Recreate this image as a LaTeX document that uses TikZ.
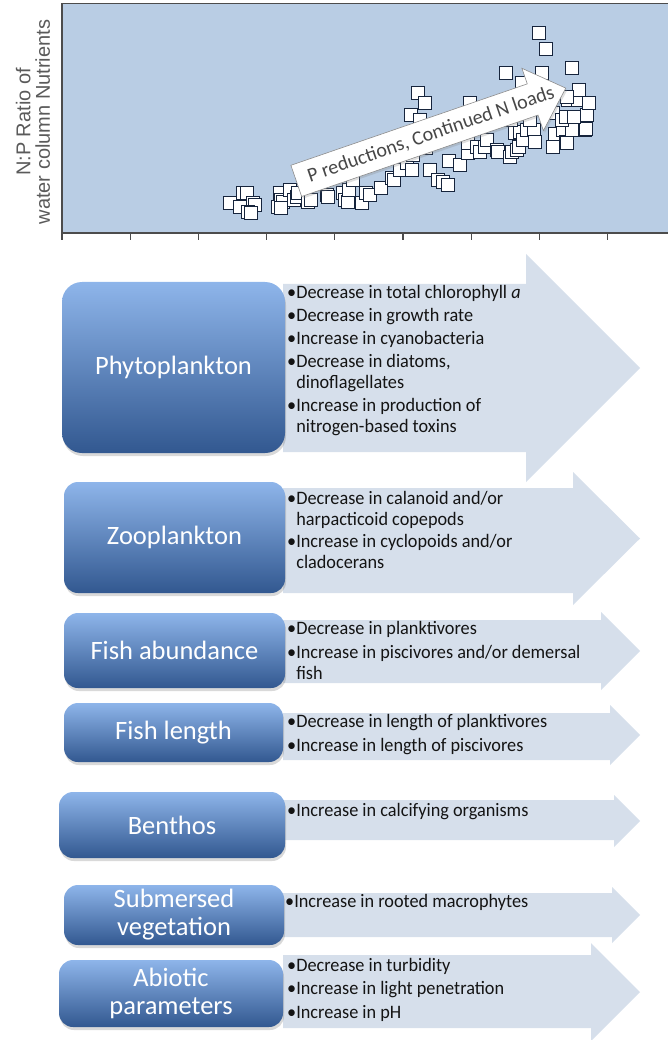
\documentclass[tikz,border=0pt]{standalone}
\usepackage{fontspec}
\setmainfont{Carlito}
\newfontfamily\axisfont{Liberation Sans}
\newfontfamily\listfont[FakeStretch=0.96]{Carlito}
\usetikzlibrary{shadows}

\definecolor{plotbg}{RGB}{185,205,228}
\definecolor{pointedge}{RGB}{22,36,60}
\definecolor{axisgray}{RGB}{90,90,90}
\definecolor{arrowfill}{RGB}{214,223,235}
\definecolor{boxtop}{RGB}{142,181,234}
\definecolor{boxbot}{RGB}{50,88,144}

\begin{document}
\begin{tikzpicture}[x=1pt,y=-1pt,
  axisline/.style={draw=black!70, line width=1.1pt},
  sample/.style={draw=pointedge, fill=white, line width=1.2pt},
  trendarrow/.style={fill=white, draw=black!45, line width=0.6pt,
    drop shadow={opacity=0.25, shadow xshift=1.5pt, shadow yshift=-2pt}},
  fatarrow/.style={fill=arrowfill},
  group/.style={rounded corners=14pt, top color=boxtop, bottom color=boxbot,
    text=white, align=center, inner sep=0pt,
    font=\fontsize{26.5}{28}\selectfont,
    drop shadow={opacity=0.3, shadow xshift=1pt, shadow yshift=-3pt}},
  effects/.style={anchor=north west, inner sep=0pt, align=left,
    font=\listfont\fontsize{19}{21}\selectfont, text=black!92}
]
\useasboundingbox (0,0) rectangle (667,1040);

% scatter plot of the ratio
\draw [axisline, fill=plotbg] (62,3.5) rectangle (680,233);
\foreach \k in {0,...,8}
  \draw [axisline] (62+68.2*\k,233) -- (62+68.2*\k,240);
\node [rotate=90, align=center, text=axisgray,
  font=\axisfont\fontsize{20}{19.5}\selectfont] (ratiolabel) at (33,122)
  {N:P Ratio of\\water column Nutrients};

\foreach \px/\py in {230/203,240/207,243/193,247/193,253/203,255/205,248/212,251/213,
  278/207,280/193,281/200,283/202,281/208,290/190,294/200,297/197,298/193,308/202,
  311/200,327/195,328/197,343/193,345/200,348/202,349/190,353/180,362/203,366/193,
  370/195,381/188,392/178,394/180,400/170,407/163,412/170,413/155,426/148,430/170,
  434/140,438/180,443/182,448/185,449/161,451/133,460/165,464/133,468/153,468/143,
  477/147,480/152,485/147,487/140,497/150,498/152,510/157,512/152,515/133,517/150,
  519/147,520/132,523/140,527/130,534/130,535/142,553/147,555/134,563/130,566/142,
  567/143,572/130,585/130,586/129,411/115,418/93,425/103,420/120,470/103,489/110,
  500/107,511/120,530/120,532/97,549/100,553/113,562/120,566/117,574/117,568/100,
  578/100,587/115,589/103,579/90,567/97,522/83,506/73,542/73,572/68,546/49,539/33}
  \filldraw [sample] (\px-6.5,\py-6.5) rectangle (\px+6.5,\py+6.5);

\begin{scope}[shift={(431,134.5)}, rotate=19]
  \filldraw [trendarrow] (-142.5,-16.5) -- (107.5,-16.5) -- (107.5,-33) -- (142.5,0)
    -- (107.5,33) -- (107.5,16.5) -- (-142.5,16.5) -- cycle;
\end{scope}
\node [rotate=19, text=black!72, font=\fontsize{20}{22}\selectfont] (trend) at (431,134.5)
  {P reductions, Continued N loads};

% block arrows
\fill [fatarrow] (283,284) -- (526,284) -- (526,254) -- (640,368) -- (526,482) -- (526,452) -- (283,452) -- cycle;
\fill [fatarrow] (283,488) -- (573,488) -- (573,472) -- (640,538.5) -- (573,605) -- (573,593) -- (283,593) -- cycle;
\fill [fatarrow] (283,620) -- (601,620) -- (601,612) -- (640,651) -- (601,690) -- (601,683) -- (283,683) -- cycle;
\fill [fatarrow] (283,713) -- (610,713) -- (610,705) -- (640,735) -- (610,765) -- (610,760) -- (283,760) -- cycle;
\fill [fatarrow] (283,800) -- (614,800) -- (614,795) -- (640,821) -- (614,847) -- (614,840) -- (283,840) -- cycle;
\fill [fatarrow] (283,893) -- (612,893) -- (612,887) -- (640,915) -- (612,943) -- (612,937) -- (283,937) -- cycle;
\fill [fatarrow] (283,955) -- (591,955) -- (591,943) -- (640,992) -- (591,1041) -- (591,1028) -- (283,1028) -- cycle;

% groups
\node [group, rounded corners=20pt, minimum width=223pt, minimum height=171pt] (phyto) at (173.5,367.5) {Phytoplankton};
\node [group, minimum width=221pt, minimum height=111pt] (zoo) at (174.5,537.5) {Zooplankton};
\node [group, minimum width=221pt, minimum height=75pt] (fishab) at (174.5,650.5) {Fish abundance};
\node [group, minimum width=219pt, minimum height=59pt] (fishlen) at (173.5,732.5) {Fish length};
\node [group, minimum width=226pt, minimum height=66pt] (benthos) at (172,825) {Benthos};
\node [group, minimum width=220pt, minimum height=60pt] (submersed) at (174,915) {Submersed\\vegetation};
\node [group, minimum width=224pt, minimum height=67pt] (abiotic) at (171,993.5) {Abiotic\\parameters};

% effects
\node [effects] (phytofx) at (287,285) {•Decrease in total chlorophyll \textit{a}\\[2pt]
  •Decrease in growth rate\\[2pt] •Increase in cyanobacteria\\[2pt]
  •Decrease in diatoms,\\\phantom{•}dinoflagellates\\[2pt]
  •Increase in production of\\\phantom{•}nitrogen-based toxins};
\node [effects] (zoofx) at (287,491) {•Decrease in calanoid and/or\\\phantom{•}harpacticoid copepods\\[1pt]
  •Increase in cyclopoids and/or\\\phantom{•}cladocerans};
\node [effects] (fishabfx) at (287,621) {•Decrease in planktivores\\[3pt]
  •Increase in piscivores and/or demersal\\\phantom{•}fish};
\node [effects] (fishlenfx) at (287,714) {•Decrease in length of planktivores\\[3pt]
  •Increase in length of piscivores};
\node [effects] (benthosfx) at (287,803) {•Increase in calcifying organisms};
\node [effects] (submersedfx) at (285,894) {•Increase in rooted macrophytes};
\node [effects] (abioticfx) at (287,958) {•Decrease in turbidity\\[2.5pt]
  •Increase in light penetration\\[2.5pt] •Increase in pH};
\end{tikzpicture}
\end{document}
